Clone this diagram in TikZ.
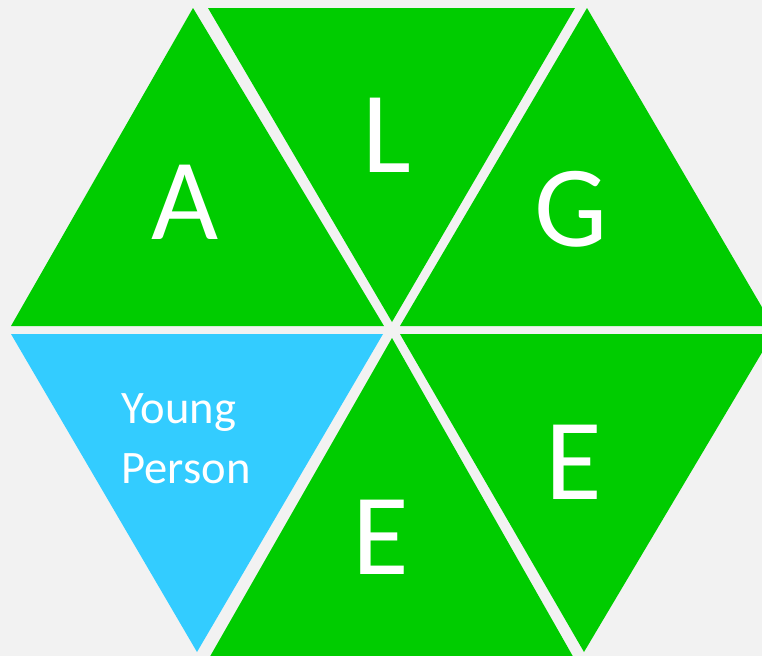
\documentclass[tikz,border=0pt]{standalone}
\usepackage{fontspec}
\setmainfont{Carlito}
\usepackage{xcolor}
\definecolor{algegreen}{RGB}{0,204,0}
\definecolor{algeblue}{RGB}{51,204,255}
\definecolor{algepaper}{RGB}{242,242,242}

\begin{document}
\begin{tikzpicture}[x=0.02cm,y=-0.02cm,
  seg/.style={fill=algegreen},
  yp/.style={fill=algeblue},
  bigltr/.style={text=white,font=\fontsize{66}{66}\selectfont,inner sep=0pt},
  smalltxt/.style={text=white,font=\fontsize{26.5}{34}\selectfont,align=left,inner sep=0pt}]

% ================= PAPER =================
\fill[algepaper] (0,0) rectangle (762,656);
\useasboundingbox (0,0) rectangle (762,656);
\clip (0,0) rectangle (762,656);

% ================= UPPER ROW =================
\fill[seg] (11,326) -- (193,8) -- (384,326) -- cycle;
\fill[seg] (208,8) -- (575,8) -- (392,322) -- cycle;
\fill[seg] (587,8) -- (773,326) -- (400,326) -- cycle;

% ================= LOWER ROW =================
\fill[yp] (11,334) -- (383,334) -- (197,652) -- cycle;
\fill[seg] (392,338) -- (575,660) -- (208,660) -- cycle;
\fill[seg] (400,334) -- (773,334) -- (584,652) -- cycle;

% ================= LETTERS =================
\node[bigltr] (a) at (185,202) {A};
\node[bigltr] (l) at (387,135) {L};
\node[bigltr] (g) at (571,209) {G};
\node[bigltr] (e1) at (574,462) {E};
\node[bigltr] (e2) at (381,537) {E};
\node[smalltxt] (yp) at (186,439) {Young\\Person};
\end{tikzpicture}
\end{document}
